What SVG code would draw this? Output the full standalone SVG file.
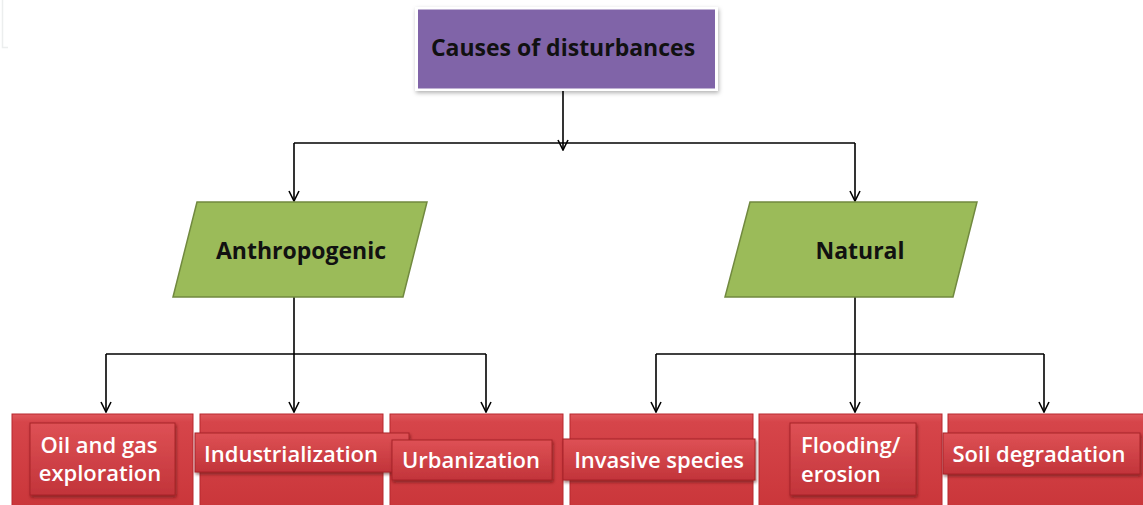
<svg xmlns="http://www.w3.org/2000/svg" width="1143" height="505" viewBox="0 0 1143 505">
<defs>
<style>
.conn{fill:none;stroke:#000;stroke-width:1.6}
.lbl{font-family:"Open Sans","Liberation Sans",sans-serif;font-weight:600}
.hd{font-weight:700;font-size:23px}
.bt{font-size:22px}
.dark{fill:#111}
.white{fill:#fff}
.para{fill:#9BBB59;stroke:#71893F;stroke-width:1.5}
.outer{fill:url(#gOuter);stroke:#B8292E;stroke-width:1}
.inner{fill:url(#gInner);stroke:#A82428;stroke-width:1;filter:url(#sh)}
</style>
<linearGradient id="gOuter" x1="0" y1="0" x2="0" y2="1">
<stop offset="0" stop-color="#E0585C"/>
<stop offset="0.08" stop-color="#D6454A"/>
<stop offset="1" stop-color="#C93539"/>
</linearGradient>
<linearGradient id="gInner" x1="0" y1="0" x2="0" y2="1">
<stop offset="0" stop-color="#DE5155"/>
<stop offset="1" stop-color="#C2343A"/>
</linearGradient>
<filter id="sh" x="-10%" y="-10%" width="130%" height="140%">
<feDropShadow dx="1" dy="2" stdDeviation="1.5" flood-color="#5A0A0C" flood-opacity="0.6"/>
</filter>
<filter id="sh2" x="-10%" y="-10%" width="130%" height="140%">
<feDropShadow dx="1" dy="2" stdDeviation="2" flood-color="#000" flood-opacity="0.3"/>
</filter>
<marker id="arr" viewBox="0 0 12 12" refX="11" refY="6" markerWidth="12" markerHeight="12" markerUnits="userSpaceOnUse" orient="auto">
<path d="M1,1 L11,6 L1,11" fill="none" stroke="#000" stroke-width="1.6"/>
</marker>
</defs>
<rect width="1143" height="505" fill="#fff"/>
<path d="M2.5,0 V47.5 H8" fill="none" stroke="#eceeee" stroke-width="1.5"/>

<g id="connectors">
<path class="conn" d="M563,89 V150" marker-end="url(#arr)"/>
<path class="conn" d="M294,143 H855"/>
<path class="conn" d="M294,143 V201" marker-end="url(#arr)"/>
<path class="conn" d="M855,143 V201" marker-end="url(#arr)"/>
<path class="conn" d="M294,297 V354"/>
<path class="conn" d="M106,354 H486"/>
<path class="conn" d="M106,354 V412" marker-end="url(#arr)"/>
<path class="conn" d="M294,354 V412" marker-end="url(#arr)"/>
<path class="conn" d="M486,354 V412" marker-end="url(#arr)"/>
<path class="conn" d="M855,297 V354"/>
<path class="conn" d="M656,354 H1044"/>
<path class="conn" d="M656,354 V412" marker-end="url(#arr)"/>
<path class="conn" d="M855,354 V412" marker-end="url(#arr)"/>
<path class="conn" d="M1044,354 V412" marker-end="url(#arr)"/>
</g>

<g id="root">
<rect x="415" y="7" width="303" height="84" fill="#fff" filter="url(#sh2)"/>
<rect x="418" y="9.5" width="297" height="79" fill="#8064A8"/>
<text class="lbl hd dark" x="563" y="56" text-anchor="middle">Causes of disturbances</text>
</g>

<g id="anthropogenic">
<polygon class="para" points="197,202 427,202 403,297 173,297"/>
<text class="lbl hd dark" x="301" y="259" text-anchor="middle">Anthropogenic</text>
</g>

<g id="natural">
<polygon class="para" points="750,202 977,202 953,297 725,297"/>
<text class="lbl hd dark" x="860" y="259" text-anchor="middle">Natural</text>
</g>

<g id="oil">
<rect class="outer" x="12" y="414" width="181" height="100"/>
<rect class="inner" x="30" y="423" width="145" height="72"/>
<text class="lbl bt white" x="99" y="453" text-anchor="middle">Oil and gas</text>
<text class="lbl bt white" x="100" y="481" text-anchor="middle">exploration</text>
</g>

<g id="industrialization">
<rect class="outer" x="200" y="414" width="183" height="100"/>
</g>

<g id="urbanization">
<rect class="outer" x="390" y="414" width="173" height="100"/>
</g>

<g id="industrialization-label">
<rect class="inner" x="195" y="433" width="214" height="39"/>
<text class="lbl bt white" x="291" y="462" text-anchor="middle">Industrialization</text>
</g>

<g id="urbanization-label">
<rect class="inner" x="392" y="440" width="160" height="40"/>
<text class="lbl bt white" x="471" y="468" text-anchor="middle">Urbanization</text>
</g>

<g id="invasive">
<rect class="outer" x="570" y="414" width="183" height="100"/>
<rect class="inner" x="563" y="439" width="192" height="41"/>
<text class="lbl bt white" x="659" y="468" text-anchor="middle">Invasive species</text>
</g>

<g id="flooding">
<rect class="outer" x="759" y="414" width="183" height="100"/>
<rect class="inner" x="790" y="423" width="126" height="72"/>
<text class="lbl bt white" x="801" y="453">Flooding/</text>
<text class="lbl bt white" x="801" y="482">erosion</text>
</g>

<g id="soil">
<rect class="outer" x="948" y="414" width="200" height="100"/>
<rect class="inner" x="943" y="433" width="197" height="41"/>
<text class="lbl bt white" x="1039" y="462" text-anchor="middle">Soil degradation</text>
</g>
</svg>
